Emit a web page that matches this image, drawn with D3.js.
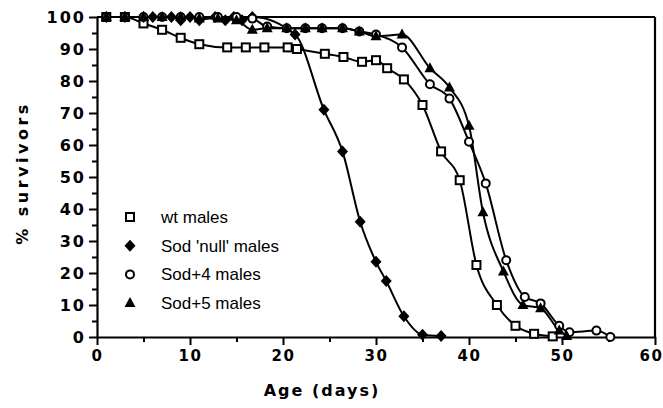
<!DOCTYPE html>
<html>
<head>
<meta charset="utf-8">
<script src="https://cdn.jsdelivr.net/npm/d3@7"></script>
<style>
  body { margin: 0; background: #fff; }
  svg { display: block; }
  .tick text { font-family: "DejaVu Sans", sans-serif; font-weight: bold; font-size: 16px; letter-spacing: 2px; fill: #000; }
  .xax .tick text { font-size: 15px; letter-spacing: 1.5px; }
</style>
</head>
<body>
<script>
// survival data (day, % survivors)
var wtDays   = [1, 3, 5, 7, 9, 11, 14, 16, 18, 20.5, 21.5, 24.5, 26.5, 28.5, 30, 31.2, 33, 35, 37, 39, 40.8, 43, 45, 47, 49];
var wtSurv   = [100, 100, 98, 96, 93.5, 91.5, 90.5, 90.5, 90.5, 90.5, 90, 88.5, 87.5, 86, 86.5, 84, 80.5, 72.5, 58, 49, 22.5, 10, 3.5, 1, 0.2];

var nullDays = [1, 3, 5, 6, 8, 9, 10, 11, 12.7, 13.8, 14.7, 15.6, 16.7, 21.3, 24.4, 26.4, 28.3, 30, 31.1, 33, 35, 37];
var nullSurv = [100, 100, 100, 100, 100, 99, 100, 99, 100, 99, 100, 99, 100, 94.5, 71, 58, 36, 23.5, 17.5, 6.5, 0.7, 0.3];

var sod4Days = [1, 3, 5, 7, 9, 11, 13, 15, 16.7, 18.3, 20.4, 22.4, 24.2, 26.4, 28.2, 30, 32.8, 35.8, 37.9, 40, 41.8, 44, 46, 47.7, 49.7, 50.8, 53.7, 55.2];
var sod4Surv = [100, 100, 100, 100, 100, 100, 100, 100, 99.5, 97, 96.5, 96.5, 96.5, 96.5, 95.5, 94.5, 90.5, 79, 74.5, 61, 48, 24, 12.5, 10.5, 3.5, 1.5, 2, 0];

var sod5Days = [1, 3, 5, 7, 9, 11, 13, 15, 16.7, 18.3, 20.4, 22.4, 24.2, 26.4, 28.2, 30, 32.8, 35.8, 37.9, 40, 41.5, 43.7, 45.8, 47.7, 49.7, 50.5];
var sod5Surv = [100, 100, 100, 100, 100, 99.5, 99.5, 99, 96, 96.5, 96.5, 96.5, 96.5, 96.5, 95.5, 94, 94.5, 84, 78, 66, 39, 20.5, 10, 9, 2, 0.3];

var legendLabels = ["wt males", "Sod 'null' males", "Sod+4 males", "Sod+5 males"];
var xTicks = [0, 10, 20, 30, 40, 50, 60];
var yTicks = [0, 10, 20, 30, 40, 50, 60, 70, 80, 90, 100];

var series = [
    { name: legendLabels[0], days: wtDays,   surv: wtSurv,   shape: "square" },
    { name: legendLabels[1], days: nullDays, surv: nullSurv, shape: "diamond" },
    { name: legendLabels[2], days: sod4Days, surv: sod4Surv, shape: "circle" },
    { name: legendLabels[3], days: sod5Days, surv: sod5Surv, shape: "triangle" }
];

var svg = d3.select("body").append("svg")
    .attr("width", 663)
    .attr("height", 408);

var x = d3.scaleLinear().domain([0, 60]).range([97, 655]);
var y = d3.scaleLinear().domain([0, 100]).range([337, 17]);

// minor ticks first (every 5)
svg.append("g")
    .attr("transform", "translate(0,337)")
    .call(d3.axisBottom(x).tickValues(d3.range(5, 60, 10)).tickSize(5).tickFormat(""))
    .call(g => g.select(".domain").remove())
    .selectAll("line").attr("stroke", "#000").attr("stroke-width", 2);
svg.append("g")
    .attr("transform", "translate(97,0)")
    .call(d3.axisLeft(y).tickValues(d3.range(5, 100, 10)).tickSize(5).tickFormat(""))
    .call(g => g.select(".domain").remove())
    .selectAll("line").attr("stroke", "#000").attr("stroke-width", 2);

// major axes
var xAxis = svg.append("g")
    .attr("class", "xax")
    .attr("transform", "translate(0,337)")
    .call(d3.axisBottom(x).tickValues(xTicks).tickSize(8).tickSizeOuter(0).tickPadding(5));
var yAxis = svg.append("g")
    .attr("transform", "translate(97,0)")
    .call(d3.axisLeft(y).tickValues(yTicks).tickSize(8).tickSizeOuter(0).tickPadding(3));
[xAxis, yAxis].forEach(function(g) {
    g.select(".domain").attr("stroke", "#000").attr("stroke-width", 2.2);
    g.selectAll(".tick line").attr("stroke", "#000").attr("stroke-width", 2);
});
yAxis.selectAll(".tick text").attr("dy", "0.36em");
xAxis.selectAll(".tick text").attr("dx", function(d) { return d === 60 ? -4 : 0; });

// frame top and right
svg.append("line").attr("x1", x(0)).attr("x2", x(60)).attr("y1", y(100)).attr("y2", y(100))
    .attr("stroke", "#000").attr("stroke-width", 2.2);
svg.append("line").attr("x1", x(60)).attr("x2", x(60)).attr("y1", y(100)).attr("y2", y(0))
    .attr("stroke", "#000").attr("stroke-width", 2.2);

// axis titles
svg.append("text")
    .attr("x", 322).attr("y", 396)
    .attr("text-anchor", "middle")
    .style("font-family", "DejaVu Sans, sans-serif")
    .style("font-weight", "bold").style("font-size", "16px").style("letter-spacing", "2px")
    .text("Age  (days)");
svg.append("text")
    .attr("transform", "translate(28,173) rotate(-90)")
    .attr("text-anchor", "middle")
    .style("font-family", "DejaVu Sans, sans-serif")
    .style("font-weight", "bold").style("font-size", "16px").style("letter-spacing", "3.5px")
    .text("% survivors");

var line = d3.line()
    .x(function(d) { return x(d[0]); })
    .y(function(d) { return y(d[1]); })
    .curve(d3.curveMonotoneX);

function pts(s) { return s.days.map(function(d, i) { return [d, s.surv[i]]; }); }

svg.append("g").selectAll("path")
    .data(series)
    .enter().append("path")
    .attr("d", function(s) { return line(pts(s)); })
    .attr("fill", "none")
    .attr("stroke", "#000")
    .attr("stroke-width", 2);

function drawMarker(g, shape, cx, cy) {
    if (shape === "square") {
        g.append("rect").attr("x", cx - 4).attr("y", cy - 4).attr("width", 8).attr("height", 8)
            .attr("fill", "#fff").attr("stroke", "#000").attr("stroke-width", 2);
    } else if (shape === "diamond") {
        g.append("path").attr("d", "M" + cx + "," + (cy - 6) + "L" + (cx + 5.5) + "," + cy + "L" + cx + "," + (cy + 6) + "L" + (cx - 5.5) + "," + cy + "Z")
            .attr("fill", "#000");
    } else if (shape === "circle") {
        g.append("circle").attr("cx", cx).attr("cy", cy).attr("r", 4)
            .attr("fill", "#fff").attr("stroke", "#000").attr("stroke-width", 2);
    } else {
        g.append("path").attr("d", "M" + cx + "," + (cy - 6) + "L" + (cx + 5.5) + "," + (cy + 4) + "L" + (cx - 5.5) + "," + (cy + 4) + "Z")
            .attr("fill", "#000");
    }
}

var marks = svg.append("g");
series.forEach(function(s) {
    pts(s).forEach(function(p) { drawMarker(marks, s.shape, x(p[0]), y(p[1])); });
});

// legend
var legend = svg.append("g");
series.forEach(function(s, i) {
    var ly = 217 + i * 28.7;
    drawMarker(legend, s.shape, 130, ly);
    legend.append("text")
        .attr("x", 161).attr("y", ly + 6)
        .style("font-family", "Liberation Sans, Arial, sans-serif")
        .style("font-size", "17px")
        .text(s.name);
});
</script>
</body>
</html>
